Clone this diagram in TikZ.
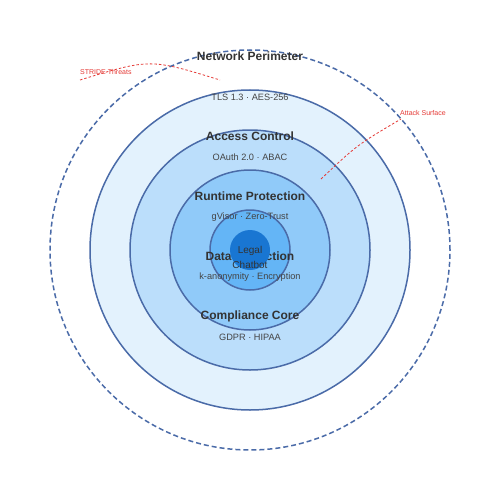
\documentclass[tikz,border=0pt]{standalone}
\usepackage{fontspec}
\setmainfont{Liberation Sans}
\definecolor{ringA}{HTML}{E3F2FD}
\definecolor{ringB}{HTML}{BBDEFB}
\definecolor{ringC}{HTML}{90CAF9}
\definecolor{ringD}{HTML}{64B5F6}
\definecolor{coreC}{HTML}{1976D2}
\definecolor{edgeC}{HTML}{4A6BA8}
\definecolor{txtC}{HTML}{333333}
\definecolor{subC}{HTML}{444444}
\definecolor{redC}{HTML}{E53935}
\begin{document}
\begin{tikzpicture}[x=1pt,y=-1pt,
  ring/.style={draw=edgeC,line width=1.5pt},
  ttl/.style={font=\bfseries\fontsize{12}{14}\selectfont,text=txtC,inner sep=0pt},
  sub/.style={font=\fontsize{9.2}{11}\selectfont,text=subC,inner sep=0pt},
  ann/.style={font=\fontsize{7}{8}\selectfont,text=redC,inner sep=0pt,anchor=west},
  annline/.style={draw=redC,line width=0.8pt,dash pattern=on 2.5pt off 2pt}]
\fill[white] (0,0) rectangle (500,500);
\useasboundingbox (0,0) rectangle (500,500);
\node[circle,draw=edgeC,line width=1.5pt,dash pattern=on 5pt off 3pt,minimum size=400pt,inner sep=0pt] (perim) at (250,250) {};
\node[circle,ring,fill=ringA,minimum size=320pt,inner sep=0pt] (tls) at (250,250) {};
\node[circle,ring,fill=ringB,minimum size=240pt,inner sep=0pt] (access) at (250,250) {};
\node[circle,ring,fill=ringC,minimum size=160pt,inner sep=0pt] (runtime) at (250,250) {};
\node[circle,ring,fill=ringD,minimum size=80pt,inner sep=0pt] (data) at (250,250) {};
\node[ttl] (t1) at (250,56) {Network Perimeter};
\node[sub] (s1) at (250,97) {TLS 1.3 · AES-256};
\node[ttl] (t2) at (250,136) {Access Control};
\node[sub] (s2) at (250,157) {OAuth 2.0 · ABAC};
\node[ttl] (t3) at (250,196) {Runtime Protection};
\node[sub] (s3) at (250,217) {gVisor · Zero-Trust};
\node[ttl] (t4) at (250,256) {Data Protection};
\node[sub] (s4) at (250,277) {k-anonymity · Encryption};
\node[ttl] (t5) at (250,316) {Compliance Core};
\node[sub] (s5) at (250,337) {GDPR · HIPAA};
\node[circle,fill=coreC,minimum size=40pt,inner sep=0pt] (core) at (250,250) {};
\node[font=\fontsize{10}{15}\selectfont,text=txtC,align=center,inner sep=0pt] (corelbl) at (250,257.5) {Legal\\Chatbot};
\coordinate (stA) at (80,80);
\coordinate (stB) at (220,80);
\draw[annline] (stA) .. controls (150,58.5) .. (stB);
\node[ann] (stride) at (80,72) {STRIDE Threats};
\coordinate (atA) at (321,179);
\coordinate (atB) at (401,119);
\draw[annline] (atA) .. controls (357,145) .. (atB);
\node[ann] (attack) at (400,112.5) {Attack Surface};
\end{tikzpicture}
\end{document}
